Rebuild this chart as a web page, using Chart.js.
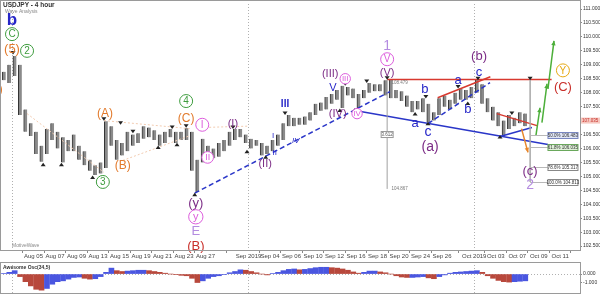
<!DOCTYPE html>
<html>
<head>
<meta charset="utf-8">
<script src="https://cdn.jsdelivr.net/npm/chart.js@4.4.1/dist/chart.umd.min.js"></script>
<style>
  html, body { margin: 0; padding: 0; background: #fff; }
  #wrap { position: relative; width: 600px; height: 295px; overflow: hidden; }
  #main { position: absolute; left: 0; top: 0; }
  #osc { position: absolute; left: 0; top: 262px; }
</style>
</head>
<body>
<div id="wrap">
  <canvas id="main" width="600" height="262"></canvas>
  <canvas id="osc" width="600" height="33"></canvas>
</div>
<script>
// USD/JPY 4 hour - wave analysis, redrawn with Chart.js
const F = "'Liberation Sans', Arial, sans-serif";

// trading days shown (two half-day bars each), x unit = trading day, Aug 01 = 0
const days = ['Jul 31','Aug 01','Aug 02','Aug 05','Aug 06','Aug 07','Aug 08','Aug 09','Aug 12','Aug 13',
  'Aug 14','Aug 15','Aug 16','Aug 19','Aug 20','Aug 21','Aug 22','Aug 23','Aug 26','Aug 27','Aug 28',
  'Aug 29','Aug 30','Sep 02','Sep 03','Sep 04','Sep 05','Sep 06','Sep 09','Sep 10','Sep 11','Sep 12',
  'Sep 13','Sep 16','Sep 17','Sep 18','Sep 19','Sep 20','Sep 23','Sep 24','Sep 25','Sep 26','Sep 27',
  'Sep 30','Oct 01','Oct 02','Oct 03','Oct 04','Oct 07'];

const lows = [108.45,108.35, 108.6,107.2, 106.6,106.45, 105.8,105.52, 105.8,106.3, 106.0,105.5,
  105.9,105.9, 105.6,105.4, 105.2,105.05, 105.1,105.3, 106.1,105.6, 105.75,105.9, 106.1,106.2,
  106.35,106.4, 106.3,106.1, 106.2,106.4, 106.2,106.3, 106.3,105.2, 104.44,105.5, 105.6,105.65,
  105.7,105.9, 106.1,106.3, 106.4,106.2,
  106.0,106.1, 105.75,105.8, 105.9,106.1, 106.3,106.8, 106.8,106.85, 106.85,107.0, 107.2,107.35,
  107.4,107.6, 107.75,107.45, 107.9,107.8, 107.45,107.8, 108.0,108.05, 108.05,107.9, 107.8,107.8,
  107.7,107.5, 107.3,107.4, 107.3,106.95, 107.0,107.2, 107.5,107.4, 107.6,107.75, 107.75,107.8,
  108.0,107.6, 107.3,107.0, 106.8,106.48, 106.7,106.8, 106.9,106.8];

const highs = [108.75,109.0, 109.32,109.0, 107.4,106.9, 106.6,106.1, 106.7,106.9, 106.6,106.4,
  106.3,106.5, 106.1,105.9, 105.6,105.4, 105.5,106.98, 106.8,106.3, 106.2,106.6, 106.5,106.55,
  106.8,106.75, 106.65,106.5, 106.6,106.7, 106.6,106.6, 106.73,106.6, 105.6,106.35, 106.1,106.0,
  106.2,106.3, 106.6,106.7, 106.7,106.5,
  106.35,106.3, 106.2,106.1, 106.3,106.5, 106.9,107.2, 107.1,107.1, 107.15,107.3, 107.6,107.65,
  107.85,107.95, 108.1,108.25, 108.2,108.15, 107.95,108.1, 108.35,108.3, 108.3,108.45, 108.48,108.1,
  108.05,107.9, 107.7,107.7, 107.8,107.6, 107.3,107.8, 107.9,107.75, 108.0,108.15, 108.1,108.2,
  108.47,108.3, 107.8,107.5, 107.3,107.0, 107.2,107.1, 107.3,107.25];

// Awesome Oscillator (34,5), one value per half-day bar
const aoValues = [0.05,0.2, 0.4,-0.3, -0.9,-1.4, -1.8,-1.9, -1.7,-1.2, -0.9,-0.8, -0.6,-0.4,
  -0.35,-0.5, -0.6,-0.55, -0.3,0.2, 0.7,0.4, 0.3,0.35, 0.4,0.45, 0.45,0.4, 0.3,0.2, 0.1,0.0,
  -0.05,-0.15, -0.2,-0.5, -1.0,-0.8, -0.5,-0.3, -0.2,-0.05, 0.15,0.3, 0.5,0.45,
  0.3,0.15, 0.0,-0.1, 0.05,0.2, 0.4,0.55, 0.6,0.5, 0.55,0.65, 0.75,0.8, 0.8,0.75, 0.7,0.6,
  0.45,0.25, 0.1,0.2, 0.35,0.35, 0.25,0.15, 0.0,-0.2, -0.35,-0.4, -0.4,-0.35, -0.3,-0.45,
  -0.55,-0.3, -0.1,0.1, 0.2,0.25, 0.3,0.35, 0.4,0.2, -0.2,-0.5, -0.75,-0.9, -0.95,-0.9, -0.85,-0.8];

const tickDays = [2,4,6,8,10,12,14,16,18,22,24,26,28,30,32,34,36,38,40,43,45,47,49,51];
const tickText = ['Aug 05','Aug 07','Aug 09','Aug 13','Aug 15','Aug 19','Aug 21','Aug 23','Aug 27',
  'Sep 2019','Sep 04','Sep 06','Sep 10','Sep 12','Sep 16','Sep 18','Sep 20','Sep 24','Sep 26',
  'Oct 2019','Oct 03','Oct 07','Oct 09','Oct 11'];
const monthStarts = [0, 22, 43];
const priceTicks = [102.5,103,103.5,104,104.5,105,105.5,106,106.5,107,107.5,108,108.5,109,109.5,110,110.5,111];

const fibPrices = [106.50, 106.04, 105.32, 104.79];
const fibText = ['50.0% 106.483', '61.8% 106.035', '78.6% 105.317', '100.0% 104.813'];

const X_MIN = -1.116, X_MAX = 52.84;

// bar position: two half-day bars per trading day
const barX = [];
days.forEach((d, i) => { barX.push(i - 1 + 0.25, i - 1 + 0.75); });

// ---- annotation styling ----
const ORANGE = '#e27a2c', GREEN = '#3e9c3e', PURPLE = '#7c2c86', PINK = '#dc5cdc',
      LAV = '#b48ce0', RED = '#c92f2a', BLUE = '#2626c8', YEL = '#e6a812';

// [text, day, price, colour, ring colour, font size, weight]
const waveLabels = [
  ['b', 0, 110.6, BLUE, null, 17, 'bold'],
  ['C', 0, 110.1, GREEN, GREEN, 10],
  ['(5)', 0, 109.58, ORANGE, null, 13],
  ['2', 1.4, 109.5, GREEN, GREEN, 10],
  ['(4)', -1.6, 108.15, ORANGE, null, 13],
  ['(A)', 8.65, 107.25, ORANGE, null, 12],
  ['4', 16.2, 107.7, GREEN, GREEN, 10],
  ['(C)', 16.2, 107.1, ORANGE, null, 12],
  ['I', 17.7, 106.85, PINK, PINK, 10],
  ['(I)', 20.55, 106.9, PURPLE, null, 11],
  ['(B)', 10.3, 105.4, ORANGE, null, 12],
  ['3', 8.45, 104.8, GREEN, GREEN, 10],
  ['II', 18.2, 105.68, PINK, PINK, 9],
  ['(y)', 17.1, 104.05, PURPLE, null, 13],
  ['y', 17.1, 103.55, PINK, PINK, 11],
  ['E', 17.1, 103.05, LAV, null, 13],
  ['(B)', 17.1, 102.5, RED, null, 13],
  ['(II)', 23.55, 105.46, PURPLE, null, 11],
  ['I', 24.3, 106.46, BLUE, null, 8],
  ['II', 24.45, 105.86, BLUE, null, 8],
  ['IV', 26.4, 106.3, BLUE, null, 8, 'italic'],
  ['III', 25.4, 107.6, BLUE, null, 10, 'bold'],
  ['V', 29.85, 108.2, BLUE, null, 11],
  ['(III)', 29.6, 108.7, PURPLE, null, 11],
  ['III', 31.0, 108.5, PINK, PINK, 8],
  ['(IV)', 30.3, 107.25, PURPLE, null, 11],
  ['IV', 32.1, 107.25, PINK, PINK, 8],
  ['1', 34.9, 109.7, LAV, null, 14],
  ['V', 34.9, 109.2, PINK, PINK, 10],
  ['(V)', 34.9, 108.72, PURPLE, null, 11],
  ['(a)', 38.9, 106.05, PURPLE, null, 14],
  ['c', 38.7, 106.6, BLUE, null, 14],
  ['a', 37.5, 106.9, BLUE, null, 13],
  ['b', 38.4, 108.15, BLUE, null, 13],
  ['a', 41.5, 108.46, BLUE, null, 13],
  ['b', 42.4, 107.43, BLUE, null, 13],
  ['c', 43.45, 108.75, BLUE, null, 13],
  ['(b)', 43.45, 109.32, PURPLE, null, 13],
  ['(c)', 48.2, 105.2, PURPLE, null, 13],
  ['2', 48.2, 104.7, LAV, null, 14],
  ['Y', 51.25, 108.8, YEL, YEL, 10],
  ['(C)', 51.25, 108.2, RED, null, 13]
];

// [day1, price1, day2, price2, colour, width, dash]
const trendLines = [
  [1.4, 107.25, 8.56, 105.14, '#f2cbb0', 1, [2, 2]],
  [8.56, 107.0, 16.56, 106.71, '#f2cbb0', 1, [2, 2]],
  [10.3, 105.57, 16.56, 106.46, '#f2cbb0', 1, [2, 2]],
  [17.6, 106.75, 21.9, 106.8, '#f2cbb0', 1, [2, 2]],
  [17.0, 104.4, 35.16, 108.04, '#2a36c8', 1.5, [5, 3]],
  [38.7, 106.89, 44.47, 108.36, '#2a36c8', 1.5, [5, 3]],
  [31.9, 107.36, 49.86, 106.14, '#2a36c8', 1.5, []],
  [45.4, 106.43, 48.37, 106.75, '#2a36c8', 1.5, []],
  [34.9, 108.47, 50.2, 108.47, '#d8392f', 1.5, []],
  [39.6, 107.82, 44.5, 108.57, '#d8392f', 1.5, []],
  [45.1, 107.25, 48.84, 106.82, '#d8392f', 1.5, []],
  [34.9, 108.47, 34.9, 104.55, '#a0a0a0', 1, []],
  [48.2, 108.47, 48.2, 104.8, '#a8a8a8', 1.5, []]
];

// [day1, price1, day2, price2, colour]
const arrows = [
  [48.74, 106.46, 49.12, 107.46, '#4caf3a'],
  [49.3, 106.93, 49.77, 108.32, '#4caf3a'],
  [49.86, 108.14, 50.42, 109.86, '#4caf3a'],
  [47.4, 106.71, 48.0, 105.86, '#e8862a']
];

// swing markers [day, price, 1 = above high / -1 = below low]
const swingMarks = [
  [0.1, 109.42, 1], [2.9, 105.43, -1], [4.6, 105.43, -1], [7.5, 104.98, -1], [8.55, 107.05, 1],
  [10.1, 106.9, 1], [11.25, 106.6, 1], [13.6, 106.05, -1], [14.9, 106.75, 1], [15.35, 106.15, -1],
  [16.2, 106.8, 1], [17.0, 104.36, -1], [20.56, 106.75, 1], [21.86, 105.9, -1], [23.6, 105.7, -1],
  [25.4, 107.25, 1], [31.0, 108.3, 1], [30.5, 107.38, -1], [31.9, 107.4, -1], [33.0, 108.4, 1],
  [34.9, 108.52, 1], [37.5, 107.25, -1], [38.5, 107.85, 1], [38.7, 106.9, -1], [41.5, 108.2, 1],
  [42.4, 107.63, -1], [43.35, 108.5, 1], [45.4, 106.43, -1], [46.5, 107.25, 1], [48.2, 108.5, 1]
];

function arrowHead(ctx, x1, y1, x2, y2, colour) {
  const ang = Math.atan2(y2 - y1, x2 - x1), L = 5;
  ctx.fillStyle = colour;
  ctx.beginPath();
  ctx.moveTo(x2, y2);
  ctx.lineTo(x2 - L * Math.cos(ang - 0.45), y2 - L * Math.sin(ang - 0.45));
  ctx.lineTo(x2 - L * Math.cos(ang + 0.45), y2 - L * Math.sin(ang + 0.45));
  ctx.closePath();
  ctx.fill();
}

const waveArt = {
  id: 'waveArt',
  beforeDatasetsDraw(chart) {
    const { ctx, chartArea: a, scales: { x } } = chart;
    ctx.save();
    ctx.strokeStyle = '#b0b0b0';
    ctx.lineWidth = 1;
    ctx.setLineDash([1, 2]);
    monthStarts.forEach(d => {
      const px = Math.round(x.getPixelForValue(d)) + 0.5;
      ctx.beginPath(); ctx.moveTo(px, a.top); ctx.lineTo(px, a.bottom); ctx.stroke();
    });
    ctx.restore();
  },
  afterDatasetsDraw(chart) {
    const { ctx, chartArea: a, scales: { x, y } } = chart;
    ctx.save();

    trendLines.forEach(t => {
      ctx.strokeStyle = t[4]; ctx.lineWidth = t[5]; ctx.setLineDash(t[6]);
      ctx.beginPath();
      ctx.moveTo(x.getPixelForValue(t[0]), y.getPixelForValue(t[1]));
      ctx.lineTo(x.getPixelForValue(t[2]), y.getPixelForValue(t[3]));
      ctx.stroke();
    });
    ctx.setLineDash([]);

    arrows.forEach(r => {
      const x1 = x.getPixelForValue(r[0]), y1 = y.getPixelForValue(r[1]);
      const x2 = x.getPixelForValue(r[2]), y2 = y.getPixelForValue(r[3]);
      ctx.strokeStyle = r[4]; ctx.lineWidth = 1.5;
      ctx.beginPath(); ctx.moveTo(x1, y1); ctx.lineTo(x2, y2); ctx.stroke();
      arrowHead(ctx, x1, y1, x2, y2, r[4]);
    });

    // swing triangles
    ctx.fillStyle = '#222';
    swingMarks.forEach(m => {
      const px = x.getPixelForValue(m[0]), py = y.getPixelForValue(m[1]);
      ctx.beginPath();
      if (m[2] > 0) { ctx.moveTo(px - 2.5, py - 2); ctx.lineTo(px + 2.5, py - 2); ctx.lineTo(px, py + 1.5); }
      else { ctx.moveTo(px - 2.5, py + 2); ctx.lineTo(px + 2.5, py + 2); ctx.lineTo(px, py - 1.5); }
      ctx.closePath(); ctx.fill();
    });

    // fib level tags on the right
    const fibStyle = [['#7886c0', '#dfe5f6'], ['#6aa85c', '#dff0d8'], ['#888', '#fff'], ['#888', '#fff']];
    fibPrices.forEach((p, i) => {
      const py = Math.round(y.getPixelForValue(p)) + 0.5;
      const x0 = x.getPixelForValue(48.2), bx = x.getPixelForValue(49.86), bw = x.getPixelForValue(52.65) - bx;
      ctx.strokeStyle = '#b8b8b8'; ctx.lineWidth = 1;
      ctx.beginPath(); ctx.moveTo(x0, py); ctx.lineTo(bx, py); ctx.stroke();
      ctx.fillStyle = fibStyle[i][1]; ctx.strokeStyle = fibStyle[i][0];
      ctx.fillRect(bx, py - 3, bw, 6); ctx.strokeRect(bx, py - 3, bw, 6);
      ctx.fillStyle = '#333'; ctx.font = '4.5px ' + F; ctx.textAlign = 'center'; ctx.textBaseline = 'middle';
      ctx.fillText(fibText[i], bx + bw / 2, py + 0.3);
    });

    // little measurement tags on the (V) drop line
    ctx.font = '4.5px ' + F; ctx.textAlign = 'left'; ctx.textBaseline = 'middle';
    ctx.fillStyle = '#777';
    ctx.fillText('108.479', x.getPixelForValue(35.3), y.getPixelForValue(108.36));
    ctx.fillText('104.867', x.getPixelForValue(35.3), y.getPixelForValue(104.55));
    const tx = x.getPixelForValue(34.9), ty = y.getPixelForValue(106.5);
    ctx.fillStyle = '#fff'; ctx.strokeStyle = '#999';
    ctx.fillRect(tx - 6, ty - 3, 12, 6); ctx.strokeRect(tx - 6, ty - 3, 12, 6);
    ctx.fillStyle = '#555'; ctx.textAlign = 'center';
    ctx.fillText('3.612', tx, ty + 0.3);

    // wave labels
    waveLabels.forEach(l => {
      const px = x.getPixelForValue(l[1]), py = y.getPixelForValue(l[2]);
      if (l[4]) {
        ctx.beginPath(); ctx.arc(px, py, l[5] * 0.65, 0, Math.PI * 2);
        ctx.fillStyle = '#fff'; ctx.fill();
        ctx.strokeStyle = l[4]; ctx.lineWidth = 1; ctx.stroke();
      }
      ctx.font = (l[6] || 'normal') + ' ' + l[5] + 'px ' + F;
      ctx.fillStyle = l[3]; ctx.textAlign = 'center'; ctx.textBaseline = 'middle';
      ctx.fillText(l[0], px, py + 0.5);
    });

    // last price tag on the axis
    const lp = y.getPixelForValue(107.0);
    ctx.fillStyle = '#f6c8c0'; ctx.fillRect(a.right + 1, lp - 3, 19, 6);
    ctx.fillStyle = '#c62f2a'; ctx.font = '4.5px ' + F; ctx.textAlign = 'left';
    ctx.fillText('107.035', a.right + 2, lp + 0.3);

    // frame + headings
    ctx.strokeStyle = '#9a9a9a'; ctx.lineWidth = 1;
    ctx.strokeRect(0.5, 0.5, a.right, a.bottom);
    ctx.fillStyle = '#333'; ctx.font = 'bold 6.5px ' + F; ctx.textAlign = 'left'; ctx.textBaseline = 'top';
    ctx.fillText('USDJPY - 4 hour', 3, 2);
    ctx.fillStyle = '#888'; ctx.font = '5px ' + F;
    ctx.fillText('Wave Analysis', 5, 9);
    ctx.fillText('MotiveWave', 12, a.bottom - 7);
    ctx.restore();
  }
};

new Chart(document.getElementById('main'), {
  type: 'bar',
  data: {
    datasets: [{
      data: lows.map((lo, i) => ({ x: barX[i], y: [lo, highs[i]] })),
      backgroundColor: '#8a8a8a',
      borderColor: '#333',
      borderWidth: { left: 1, right: 0, top: 0, bottom: 0 },
      borderSkipped: false,
      barThickness: 3.5
    }]
  },
  options: {
    responsive: false,
    animation: false,
    layout: { padding: { top: 3, left: 0, right: 0, bottom: 0 } },
    plugins: { legend: { display: false }, tooltip: { enabled: false } },
    scales: {
      x: {
        type: 'linear', min: X_MIN, max: X_MAX, offset: false,
        grid: { drawOnChartArea: false, tickLength: 3, color: '#888' },
        border: { color: '#999' },
        ticks: {
          autoSkip: false, maxRotation: 0, padding: 0, color: '#444',
          font: { size: 6, family: F },
          callback: v => tickText[tickDays.indexOf(v)]
        },
        afterBuildTicks: s => { s.ticks = tickDays.map(v => ({ value: v })); },
        afterFit: s => { s.height = 12; }
      },
      y: {
        position: 'right', min: 102.36, max: 111.18,
        grid: { drawOnChartArea: false, tickLength: 2, color: '#888' },
        border: { color: '#999' },
        ticks: { padding: 1, color: '#333', font: { size: 5, family: F }, callback: v => v.toFixed(3) },
        afterBuildTicks: s => { s.ticks = priceTicks.map(v => ({ value: v })); },
        afterFit: s => { s.width = 20; }
      }
    }
  },
  plugins: [waveArt]
});

// ---- Awesome Oscillator panel ----
const aoColours = aoValues.map((v, i) => (i > 0 && v < aoValues[i - 1]) ? '#b8483c' : '#4a56e0');

const oscArt = {
  id: 'oscArt',
  beforeDatasetsDraw(chart) {
    const { ctx, chartArea: a, scales: { x, y } } = chart;
    ctx.save();
    ctx.strokeStyle = '#b0b0b0'; ctx.lineWidth = 1; ctx.setLineDash([1, 2]);
    monthStarts.forEach(d => {
      const px = Math.round(x.getPixelForValue(d)) + 0.5;
      ctx.beginPath(); ctx.moveTo(px, 0); ctx.lineTo(px, chart.height); ctx.stroke();
    });
    const zy = Math.round(y.getPixelForValue(0)) + 0.5;
    ctx.beginPath(); ctx.moveTo(a.left, zy); ctx.lineTo(a.right, zy); ctx.stroke();
    ctx.restore();
  },
  afterDraw(chart) {
    const { ctx, chartArea: a } = chart;
    ctx.save();
    ctx.strokeStyle = '#9a9a9a'; ctx.lineWidth = 1;
    ctx.strokeRect(0.5, 0.5, a.right, chart.height - 2);
    ctx.fillStyle = '#333'; ctx.font = 'bold 5px ' + F; ctx.textBaseline = 'top';
    ctx.fillText('Awesome Osc(34,5)', 3, 3);
    ctx.restore();
  }
};

new Chart(document.getElementById('osc'), {
  type: 'bar',
  data: {
    datasets: [{
      data: aoValues.map((v, i) => ({ x: barX[i], y: v })),
      backgroundColor: aoColours,
      barThickness: 5,
      borderWidth: 0
    }]
  },
  options: {
    responsive: false,
    animation: false,
    layout: { padding: { top: 1, left: 0, right: 0, bottom: 2 } },
    plugins: { legend: { display: false }, tooltip: { enabled: false } },
    scales: {
      x: { type: 'linear', min: X_MIN, max: X_MAX, offset: false, display: false },
      y: {
        position: 'right', min: -2.0, max: 0.95,
        grid: { drawOnChartArea: false, tickLength: 2, color: '#888' },
        border: { color: '#999' },
        ticks: { padding: 1, color: '#333', font: { size: 5, family: F }, callback: v => v.toFixed(3) },
        afterBuildTicks: s => { s.ticks = [{ value: 0 }, { value: -1 }]; },
        afterFit: s => { s.width = 20; }
      }
    }
  },
  plugins: [oscArt]
});
</script>
</body>
</html>
